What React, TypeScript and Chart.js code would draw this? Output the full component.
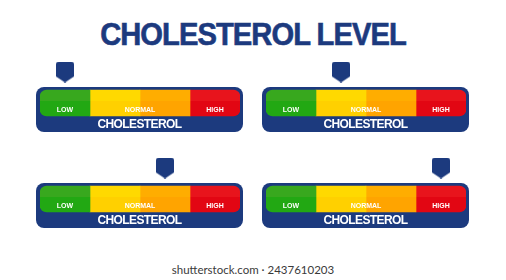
import React, { useEffect, useRef } from 'react';
import { Chart, registerables } from 'chart.js';

Chart.register(...registerables);

// ---- data ----
const TITLE = 'CHOLESTEROL LEVEL';
const GAUGE_LABEL = 'CHOLESTEROL';
const ROWS = ['marker', 'level'];
const ZONE_SIZES = [25, 25, 25, 25];
const ZONE_TOP_COLORS = ['#38a81e', '#ffd900', '#ffad00', '#e8141c'];
const ZONE_BOTTOM_COLORS = ['#22a813', '#ffd000', '#ffa400', '#e20613'];
const ZONE_TEXT_LABELS = ['LOW', 'NORMAL', 'HIGH'];
const ZONE_TEXT_AT = [12.5, 50, 87.5];
const MARKER_VALUES = [12.5, 37.5, 62.5, 87.5];
const WATERMARK = 'shutterstock.com · 2437610203';

const NAVY = '#1c3a7e';
const PANEL_POS = [
  { left: 36, top: 56 },
  { left: 262, top: 56 },
  { left: 36, top: 152 },
  { left: 262, top: 152 },
];
const CW = 207;
const CH = 80;

function makeMarker(): HTMLCanvasElement {
  const c = document.createElement('canvas');
  c.width = 18;
  c.height = 21;
  const g = c.getContext('2d')!;
  g.fillStyle = NAVY;
  g.beginPath();
  g.moveTo(0, 3);
  g.arcTo(0, 0, 3, 0, 3);
  g.lineTo(15, 0);
  g.arcTo(18, 0, 18, 3, 3);
  g.lineTo(18, 15);
  g.lineTo(9, 21);
  g.lineTo(0, 15);
  g.closePath();
  g.fill();
  return c;
}

function roundRect(ctx: CanvasRenderingContext2D, x: number, y: number, w: number, h: number, r: number) {
  ctx.beginPath();
  ctx.moveTo(x + r, y);
  ctx.lineTo(x + w - r, y);
  ctx.arcTo(x + w, y, x + w, y + r, r);
  ctx.lineTo(x + w, y + h - r);
  ctx.arcTo(x + w, y + h, x + w - r, y + h, r);
  ctx.lineTo(x + r, y + h);
  ctx.arcTo(x, y + h, x, y + h - r, r);
  ctx.lineTo(x, y + r);
  ctx.arcTo(x, y, x + r, y, r);
  ctx.closePath();
}

const BAR_T = 26;

const gaugePlugin = {
  id: 'gaugeFrame',
  beforeDatasetsDraw(chart: any) {
    const ctx = chart.ctx as CanvasRenderingContext2D;
    const xs = chart.scales.x;
    const ys = chart.scales.y;
    const left = xs.getPixelForValue(0) - 4;
    const right = xs.getPixelForValue(100) + 3;
    const cy = ys.getPixelForValue(1);
    const top = cy - BAR_T / 2 - 3;
    const bottom = cy + BAR_T / 2 + 16;
    ctx.save();
    ctx.fillStyle = NAVY;
    roundRect(ctx, left, top, right - left, bottom - top, 8);
    ctx.fill();
    ctx.fillStyle = '#ffffff';
    ctx.font = 'bold 12px "Liberation Sans", Arial, sans-serif';
    (ctx as any).letterSpacing = '-0.6px';
    ctx.textAlign = 'center';
    ctx.textBaseline = 'middle';
    ctx.fillText(GAUGE_LABEL, (left + right) / 2, cy + BAR_T / 2 + 9);
    ctx.restore();
  },
  afterDatasetsDraw(chart: any) {
    const ctx = chart.ctx as CanvasRenderingContext2D;
    const xs = chart.scales.x;
    const ys = chart.scales.y;
    const cy = ys.getPixelForValue(1);
    ctx.save();
    ctx.fillStyle = '#ffffff';
    ctx.font = 'bold 7px "Liberation Sans", Arial, sans-serif';
    ctx.textAlign = 'center';
    ctx.textBaseline = 'middle';
    ZONE_TEXT_LABELS.forEach((t, i) => {
      ctx.fillText(t, xs.getPixelForValue(ZONE_TEXT_AT[i]), cy + 7);
    });
    ctx.restore();
  },
};

function Gauge({ marker, left, top }: { marker: number; left: number; top: number }) {
  const ref = useRef<HTMLCanvasElement>(null);
  useEffect(() => {
    const markerImg = makeMarker();
    const n = ZONE_SIZES.length;
    const barSets = ZONE_SIZES.map((v, i) => ({
      type: 'bar' as const,
      indexAxis: 'y' as const,
      data: [null, v],
      barThickness: BAR_T,
      borderSkipped: false,
      borderRadius:
        i === 0
          ? { topLeft: 7, bottomLeft: 7, topRight: 0, bottomRight: 0 }
          : i === n - 1
          ? { topLeft: 0, bottomLeft: 0, topRight: 7, bottomRight: 7 }
          : 0,
      backgroundColor: (c: any) => {
        const ch = c.chart;
        if (!ch.chartArea) return ZONE_TOP_COLORS[i];
        const cy = ch.scales.y.getPixelForValue(1);
        const g = ch.ctx.createLinearGradient(0, cy - BAR_T / 2, 0, cy + BAR_T / 2);
        g.addColorStop(0, ZONE_TOP_COLORS[i]);
        g.addColorStop(0.43, ZONE_TOP_COLORS[i]);
        g.addColorStop(0.43, ZONE_BOTTOM_COLORS[i]);
        g.addColorStop(1, ZONE_BOTTOM_COLORS[i]);
        return g;
      },
    }));
    const chart = new Chart(ref.current!, {
      type: 'bar',
      data: {
        labels: ROWS,
        datasets: [
          ...barSets,
          {
            type: 'scatter' as const,
            data: [{ x: marker, y: 'marker' }],
            pointStyle: markerImg,
            pointRadius: 10,
          } as any,
        ],
      },
      options: {
        responsive: false,
        animation: false,
        events: [],
        layout: { padding: { top: 0.5, bottom: 17.5, left: 4, right: 3 }, autoPadding: false },
        plugins: { legend: { display: false }, tooltip: { enabled: false }, title: { display: false } },
        scales: {
          x: { type: 'linear', min: 0, max: 100, stacked: true, display: false, offset: false, grace: 0 },
          y: { type: 'category', labels: ROWS, offset: true, stacked: true, display: false },
        },
      } as any,
      plugins: [gaugePlugin],
    });
    return () => chart.destroy();
  }, [marker]);
  return (
    <canvas
      ref={ref}
      width={CW}
      height={CH}
      style={{ position: 'absolute', left, top, width: CW, height: CH }}
    />
  );
}

export default function App() {
  return (
    <div
      style={{
        position: 'absolute',
        left: 0,
        top: 0,
        width: 506,
        height: 280,
        background: '#ffffff',
        overflow: 'hidden',
      }}
    >
      <div
        style={{
          position: 'absolute',
          left: 0,
          top: 19,
          width: 506,
          textAlign: 'center',
          fontFamily: '"Liberation Sans", Arial, sans-serif',
          fontWeight: 900,
          fontSize: 31,
          lineHeight: '31px',
          letterSpacing: '-1px',
          color: NAVY,
          transform: 'scaleX(0.94)',
          WebkitTextStroke: `0.6px ${NAVY}`,
          whiteSpace: 'nowrap',
        }}
      >
        {TITLE}
      </div>
      {MARKER_VALUES.map((m, i) => (
        <Gauge key={i} marker={m} left={PANEL_POS[i].left} top={PANEL_POS[i].top} />
      ))}
      <div
        style={{
          position: 'absolute',
          left: 0,
          top: 262,
          width: 506,
          textAlign: 'center',
          fontFamily: 'Lato, "Open Sans", sans-serif',
          fontSize: 11.5,
          lineHeight: '16px',
          color: '#3a3a3a',
        }}
      >
        {WATERMARK}
      </div>
    </div>
  );
}
